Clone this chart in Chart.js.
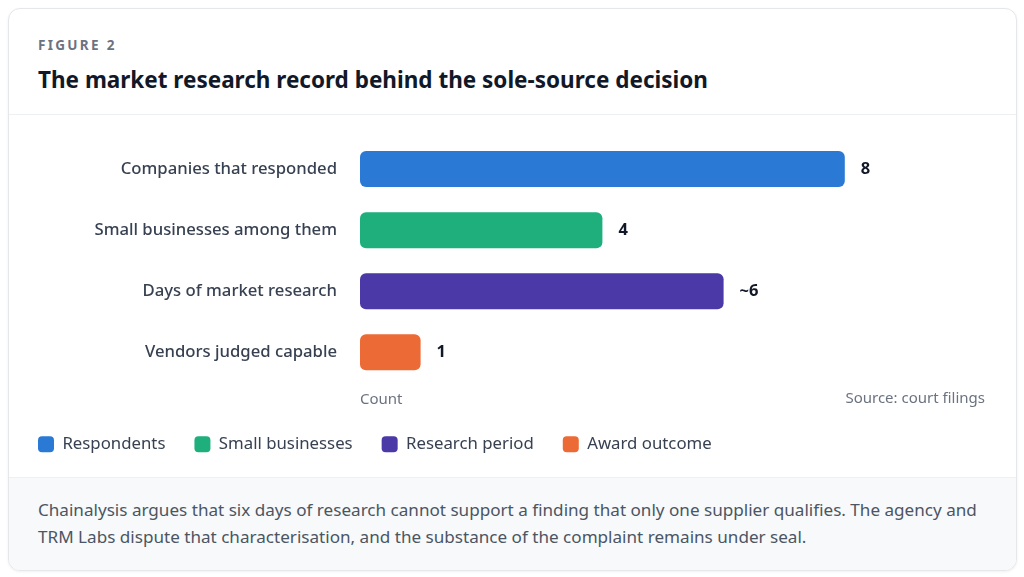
<!DOCTYPE html>
<html><head><meta charset="utf-8">
<script src="https://cdn.jsdelivr.net/npm/chart.js@4.4.1/dist/chart.umd.min.js"></script>
<style>
html,body{margin:0;padding:0;background:#fff;font-family:"Noto Sans",sans-serif;}
.card{position:absolute;left:8px;top:8px;width:1007px;height:561px;border:1px solid #e5e7eb;border-radius:12px;box-shadow:0 1px 3px rgba(0,0,0,0.06);overflow:hidden;background:#fff;}
.eyebrow{position:absolute;left:29px;top:27px;font-size:13.5px;font-weight:700;letter-spacing:2.3px;color:#6b7280;white-space:nowrap;}
.title{position:absolute;left:29px;top:55px;font-size:22.5px;font-weight:700;color:#111827;white-space:nowrap;}
.hr{position:absolute;left:0;right:0;top:105px;height:1px;background:#eef0f2;}
.chartbox{position:absolute;left:0;top:106px;width:1007px;height:362px;}
.foot{position:absolute;left:0;right:0;top:468px;bottom:0;background:#f8f9fa;border-top:1px solid #eef0f2;padding:18px 29px 0 29px;font-size:17.1px;line-height:27px;color:#4b5563;white-space:nowrap;}
</style></head>
<body>
<div class="card">
  <div class="eyebrow">FIGURE 2</div>
  <div class="title">The market research record behind the sole-source decision</div>
  <div class="hr"></div>
  <div class="chartbox"><canvas id="c"></canvas></div>
  <div class="foot">Chainalysis argues that six days of research cannot support a finding that only one supplier qualifies. The agency and<br>TRM Labs dispute that characterisation, and the substance of the complaint remains under seal.</div>
</div>
<script>
const categories = ['Companies that responded','Small businesses among them','Days of market research','Vendors judged capable'];
const values = [8, 4, 6, 1];
const valueLabels = ['8', '4', '~6', '1'];
const legendLabels = ['Respondents','Small businesses','Research period','Award outcome'];
const colors = ['#2a7ad5', '#1eaf7d', '#4a39a6', '#ec6a36'];
const axisTitle = 'Count';
const sourceNote = 'Source: court filings';
const xMax = 10;

const valueLabelPlugin = {
  id: 'valueLabels',
  afterDatasetsDraw(chart) {
    const ctx = chart.ctx;
    const meta = chart.getDatasetMeta(0);
    ctx.save();
    ctx.font = '700 16.5px "Noto Sans"';
    ctx.fillStyle = '#111827';
    ctx.textBaseline = 'middle';
    ctx.textAlign = 'left';
    meta.data.forEach((bar, i) => {
      ctx.fillText(valueLabels[i], bar.x + 16, bar.y);
    });
    ctx.restore();
  },
  afterDraw(chart) {
    const ctx = chart.ctx;
    ctx.save();
    ctx.font = '15px "Noto Sans"';
    ctx.fillStyle = '#6b7280';
    ctx.textBaseline = 'middle';
    ctx.textAlign = 'right';
    ctx.fillText(sourceNote, chart.width - 31, chart.chartArea.bottom + 15.5);
    ctx.restore();
  }
};

new Chart(document.getElementById('c'), {
  type: 'bar',
  data: {
    labels: categories,
    datasets: [{
      data: values,
      backgroundColor: colors,
      borderRadius: 6,
      borderSkipped: false,
      categoryPercentage: 0.59,
      barPercentage: 1
    }]
  },
  options: {
    indexAxis: 'y',
    responsive: true,
    maintainAspectRatio: false,
    animation: false,
    layout: { autoPadding: false, padding: { left: 0, right: 50, top: 23.5, bottom: 14.3 } },
    scales: {
      x: {
        min: 0, max: xMax,
        grid: { display: false, drawTicks: false },
        border: { display: false },
        ticks: { display: false },
        title: { display: true, text: axisTitle, align: 'start', color: '#6b7280', font: { size: 15, family: 'Noto Sans', lineHeight: 1 }, padding: { top: 9, bottom: 0 } }
      },
      y: {
        grid: { display: false, drawTicks: false },
        border: { display: false },
        ticks: { color: '#374151', padding: 23, font: { size: 16.7, weight: 500, family: 'Noto Sans' } },
        afterFit(s) { s.width = 351; s.paddingTop = 0; s.paddingBottom = 0; }
      }
    },
    plugins: {
      tooltip: { enabled: false },
      legend: {
        position: 'bottom',
        align: 'start',
        maxHeight: 70,
        labels: {
          boxWidth: 16, boxHeight: 16, padding: 29,
          useBorderRadius: true, borderRadius: 4,
          color: '#374151',
          font: { size: 16.8, family: 'Noto Sans' },
          generateLabels() {
            return legendLabels.map((t, i) => ({
              text: t, fillStyle: colors[i], strokeStyle: colors[i], lineWidth: 0, borderRadius: 4, hidden: false, index: i, fontColor: '#374151'
            }));
          }
        }
      }
    }
  },
  plugins: [valueLabelPlugin]
});
</script>
</body></html>
